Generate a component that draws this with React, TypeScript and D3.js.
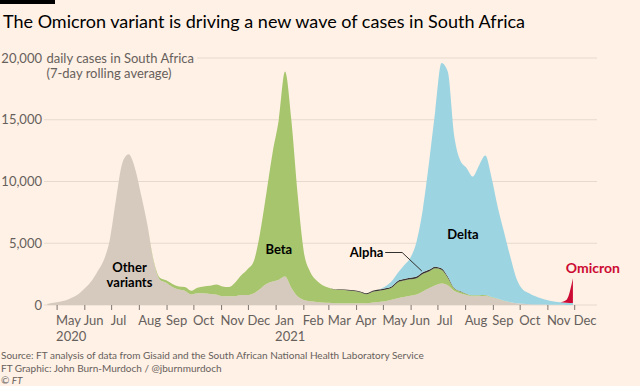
import React, { useEffect, useRef } from "react";
import * as d3 from "d3";

// Each variant series begins at its own start week; missing weeks count as 0.
const otherStart = "2020-04-20";
const otherCases = [
  80, 180,
  260, 380, 600, 900,
  1350, 1900, 2700, 3600, 5300,
  8600, 11500, 12200, 11100,
  8900, 6500, 3500, 2050, 1800,
  1450, 1250, 1150, 850,
  950, 950, 900, 850,
  700, 700, 700, 800, 800,
  950, 1300, 1700, 1900,
  2050, 2300, 1400, 700,
  400, 300, 250, 200,
  180, 150, 150, 150, 150,
  150, 150, 200, 250,
  300, 420, 550, 650, 750,
  850, 1100, 1350, 1600,
  1750, 1600, 1150, 950,
  800, 700, 720, 750, 600,
  480, 330, 220, 150,
  100, 70, 50, 40,
  30, 20, 20, 10, 10,
];

const betaStart = "2020-08-17";
const betaCases = [
  100, 150, 200,
  250, 250, 300, 300,
  450, 550, 650, 800,
  800, 750, 1100, 1600, 2100,
  2600, 4500, 7300, 10400,
  12950, 16600, 13600, 8300,
  3900, 2400, 1750, 1400,
  1220, 1100, 1080, 1030, 980,
  880, 720, 870, 900,
  940, 970, 1280, 1330, 1330,
  1320, 1420, 1370, 1370,
  1100, 600, 200, 150,
  100, 80, 60, 50, 40,
  30, 20, 10,
];

const alphaStart = "2021-03-08";
const alphaCases = [
  30, 50, 60, 70,
  70, 80, 80, 100,
  110, 110, 120, 120, 120,
  130, 130, 130, 130,
  120, 100, 50, 30,
  20,
];

const deltaStart = "2021-05-03";
const deltaCases = [
  150, 400, 650, 1100, 1600,
  2800, 5050, 8650, 12600,
  16630, 16600, 12400, 10570,
  10180, 9620, 10520, 11300, 9660,
  7390, 5550, 3670, 1950,
  1150, 880, 650, 480,
  350, 260, 200, 170, 150,
];

const omicronStart = "2021-11-15";
const omicronCases = [0, 250, 2000];

const variants = ["other", "beta", "alpha", "delta", "omicron"];
const colors = {
  other: "#d6cabf",
  beta: "#a6c56c",
  alpha: "#3a3735",
  delta: "#9cd4e2",
  omicron: "#cc0a33",
};

const yTicks = [0, 5000, 10000, 15000, 20000];

const App = () => {
  const ref = useRef(null);

  useEffect(() => {
    const svg = d3.select(ref.current);
    svg.selectAll("*").remove();

    const parse = d3.timeParse("%Y-%m-%d");
    const start = parse(otherStart);
    const end = parse("2021-11-29");
    const weeks = d3.timeDay.range(start, d3.timeDay.offset(end, 1), 7);

    const series = {
      other: [otherStart, otherCases],
      beta: [betaStart, betaCases],
      alpha: [alphaStart, alphaCases],
      delta: [deltaStart, deltaCases],
      omicron: [omicronStart, omicronCases],
    };

    const rows = weeks.map((date) => {
      const row = { date };
      variants.forEach((k) => {
        const [s, vals] = series[k];
        const i = Math.round(d3.timeDay.count(parse(s), date) / 7);
        row[k] = i >= 0 && i < vals.length ? vals[i] : 0;
      });
      return row;
    });

    const x = d3
      .scaleTime()
      .domain([parse("2020-05-01"), parse("2021-12-01")])
      .range([57.1, 574.7]);
    const y = d3.scaleLinear().domain([0, 20000]).range([305, 58]);

    const font = "Lato, 'Open Sans', sans-serif";
    const plotLeft = 44;
    const plotRight = 597;

    svg.append("rect").attr("width", 640).attr("height", 386).attr("fill", "#fff1e5");
    svg.append("rect").attr("width", 55).attr("height", 4).attr("fill", "#000");

    svg
      .append("text")
      .attr("x", 3)
      .attr("y", 28)
      .style("font-family", font)
      .style("font-size", "18px")
      .attr("fill", "#000")
      .text("The Omicron variant is driving a new wave of cases in South Africa");

    // y axis labels + grid
    const yLab = svg.append("g").style("font-family", font).style("font-size", "13px");
    let topTextEnd = plotLeft;
    yTicks.forEach((t) => {
      yLab
        .append("text")
        .attr("x", 42)
        .attr("y", y(t))
        .attr("dy", "0.36em")
        .attr("text-anchor", "end")
        .attr("fill", "#66605c")
        .text(d3.format(",")(t));
      if (t === 20000) {
        const unit = yLab
          .append("text")
          .attr("x", 46.5)
          .attr("y", y(t))
          .attr("dy", "0.36em")
          .attr("fill", "#66605c")
          .text("daily cases in South Africa");
        topTextEnd = 46.5 + unit.node().getComputedTextLength() + 3;
        yLab
          .append("text")
          .attr("x", 46.5)
          .attr("y", y(t) + 15)
          .attr("dy", "0.36em")
          .attr("fill", "#66605c")
          .text("(7-day rolling average)");
      }
    });

    svg
      .append("g")
      .selectAll("line")
      .data(yTicks)
      .join("line")
      .attr("x1", (d) => (d === 20000 ? topTextEnd : plotLeft))
      .attr("x2", plotRight)
      .attr("y1", (d) => y(d))
      .attr("y2", (d) => y(d))
      .attr("stroke", "#e6d9ce")
      .attr("stroke-width", 1);

    // stacked areas
    const stacked = d3.stack().keys(variants)(rows);
    const area = d3
      .area()
      .x((d) => x(d.data.date))
      .y0((d) => y(d[0]))
      .y1((d) => y(d[1]))
      .curve(d3.curveMonotoneX);

    svg
      .append("g")
      .selectAll("path")
      .data(stacked)
      .join("path")
      .attr("d", (s) => {
        // drop the long empty stretches of a layer
        const pts = s.filter((d, i) => {
          const has = (j) => s[j] && s[j][1] - s[j][0] > 0;
          return has(i) || has(i - 1) || has(i + 1);
        });
        return area(pts);
      })
      .attr("fill", (s) => colors[s.key]);

    // x axis
    const months = d3.timeMonth.range(parse("2020-05-01"), parse("2021-12-02"));
    const xAxis = svg.append("g").style("font-family", font).style("font-size", "13px");
    xAxis
      .selectAll("line")
      .data(months)
      .join("line")
      .attr("x1", (d) => x(d))
      .attr("x2", (d) => x(d))
      .attr("y1", 305)
      .attr("y2", 310)
      .attr("stroke", "#7d7570")
      .attr("stroke-width", 1);
    xAxis
      .selectAll("text.m")
      .data(months)
      .join("text")
      .attr("class", "m")
      .attr("x", (d) => x(d) - 1)
      .attr("y", 325)
      .attr("fill", "#66605c")
      .text(d3.timeFormat("%b"));
    xAxis
      .selectAll("text.yr")
      .data(months.filter((d) => (d.getMonth() === 4 && d.getFullYear() === 2020) || d.getMonth() === 0))
      .join("text")
      .attr("class", "yr")
      .attr("x", (d) => x(d) - 1)
      .attr("y", 341)
      .attr("fill", "#66605c")
      .text(d3.timeFormat("%Y"));

    // annotations
    const ann = svg.append("g").style("font-family", font).style("font-weight", 700);
    const label = (txt, date, val, anchor = "middle", color = "#000", size = 13) =>
      ann
        .append("text")
        .attr("x", x(parse(date)))
        .attr("y", y(val))
        .attr("dy", "0.36em")
        .attr("text-anchor", anchor)
        .attr("fill", color)
        .style("font-size", `${size}px`)
        .text(txt);

    label("Other", "2020-07-21", 3040);
    label("variants", "2020-07-21", 1840);
    label("Beta", "2021-01-04", 4530);
    label("Delta", "2021-07-29", 5720);
    label("Alpha", "2021-05-01", 4300, "end");
    label("Omicron", "2021-11-21", 3020, "start", colors.omicron, 14);

    ann
      .append("path")
      .attr(
        "d",
        d3.line()([
          [x(parse("2021-05-03")), y(4250)],
          [x(parse("2021-05-22")), y(4250)],
          [x(parse("2021-06-13")), y(2750)],
        ])
      )
      .attr("fill", "none")
      .attr("stroke", "#33302e")
      .attr("stroke-width", 1);

    // footer
    const foot = svg.append("g").style("font-family", font).style("font-size", "10px").attr("fill", "#66605c");
    foot.append("text").attr("x", 1).attr("y", 359)
      .text("Source: FT analysis of data from Gisaid and the South African National Health Laboratory Service");
    foot.append("text").attr("x", 1).attr("y", 372).text("FT Graphic: John Burn-Murdoch / @jburnmurdoch");
    foot.append("text").attr("x", 1).attr("y", 384).style("font-style", "italic").text("© FT");
  }, []);

  return (
    <svg
      ref={ref}
      width={640}
      height={386}
      style={{ position: "absolute", left: 0, top: 0, display: "block" }}
    />
  );
};

export default App;
